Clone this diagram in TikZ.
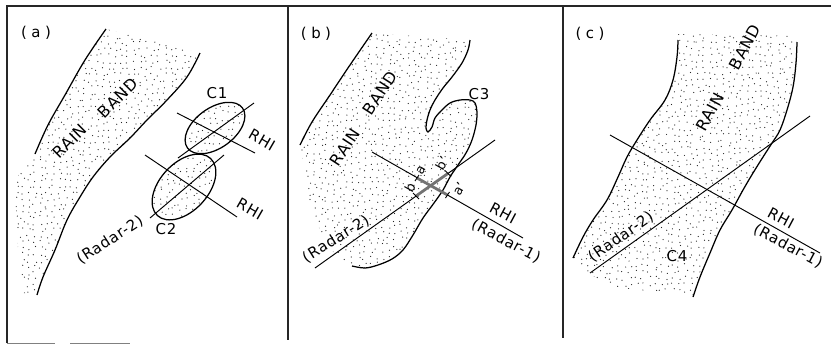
\documentclass[tikz,border=0pt]{standalone}
\usepackage{fontspec}
\setmainfont{DejaVu Sans}[LetterSpace=5]
\newcommand\stipfill[4]{\fill[black!85] \foreach \i in {0,...,#3}{\foreach \j in {0,...,#4}{(#1+\i*6.2+2.2*rand, #2+\j*6.2+2.2*rand) circle (0.62)}};}
\begin{document}
\begin{tikzpicture}[x=1bp,y=-1bp,
  frame/.style={line width=1.3bp, black!85},
  bnd/.style={line width=1.25bp},
  ray/.style={line width=0.95bp},
  lab/.style={font=\fontsize{15}{17}\selectfont, inner sep=0pt},
  big/.style={font=\fontsize{16}{18}\selectfont, inner sep=0pt},
  sml/.style={font=\fontsize{13}{15}\selectfont, inner sep=0pt},
  paren/.style={font=\fontsize{15}{17}\selectfont\addfontfeature{LetterSpace=30}, inner sep=0pt},
  hatch/.style={line width=2.8bp, black!55}]
\pgfmathsetseed{4242}
\useasboundingbox (0,0) rectangle (831,344);
% frame
\draw[frame] (7,343) -- (7,6) -- (831,6);
\draw[frame] (288,6) -- (288,340);
\draw[frame] (563,6) -- (563,338);
\draw[line width=0.8bp, black!50] (7,343) -- (55,343) (70,343) -- (130,343);

% ===== panel (a) =====
\begin{scope}
\clip (200,53) -- (187,77) -- (167,100) -- (147,120) -- (130,138) -- (110,157) -- (93,177) -- (80,197) -- (67,220) -- (55,250) -- (43,277) -- (37,295) -- (24,293) -- (17,240) -- (15,180) -- (35,154) -- (48,125) -- (65,95) -- (85,60) -- (106,29) -- cycle;
\stipfill{10}{25}{31}{45}
\end{scope}
\draw[bnd] plot[smooth, tension=0.6] coordinates {(200,53) (187,77) (167,100) (147,120) (130,138) (110,157) (93,177) (80,197) (67,220) (55,250) (43,277) (37,295)};
\draw[bnd] plot[smooth, tension=0.6] coordinates {(106,29) (85,60) (65,95) (48,125) (35,154)};
\begin{scope}
\clip (215,128) ellipse [x radius=34, y radius=20, rotate=36];
\stipfill{178}{100}{12}{10}
\end{scope}
\begin{scope}
\clip (184,187) ellipse [x radius=39, y radius=24, rotate=47];
\stipfill{143}{148}{13}{13}
\end{scope}
\draw[bnd] (215,128) ellipse [x radius=34, y radius=20, rotate=36];
\draw[bnd] (184,187) ellipse [x radius=39, y radius=24, rotate=47];
\draw[ray] (177,113) -- (255,153);
\draw[ray] (178,158) -- (254,103);
\draw[ray] (145,155) -- (237,217);
\draw[ray] (150,218) -- (224,155);
\node[paren] (la) at (36,33) {(a)};
\node[big, rotate=45] (rainA) at (70,141) {RAIN};
\node[big, rotate=45] (bandA) at (118,98) {BAND};
\node[lab] (c1) at (217,93) {C1};
\node[lab] (c2) at (166,229) {C2};
\node[lab, rotate=-30] (rhiA1) at (262,140) {RHI};
\node[lab, rotate=-30] (rhiA2) at (250,209) {RHI};
\node[lab, rotate=33] (r2A) at (110,240) {(Radar-2)};

% ===== panel (b) =====
\begin{scope}
\clip (372,33) -- (470,40) -- (468,50) -- (462,63) -- (452,77) -- (443,88) -- (435,100) -- (430,110) -- (427,120) -- (426,128) -- (428,132) -- (432,127) -- (435,118) -- (442,110) -- (450,103) -- (460,100) -- (470,100) -- (475,103) -- (477,112) -- (476,125) -- (472,140) -- (466,153) -- (458,165) -- (450,177) -- (443,190) -- (434,203) -- (423,218) -- (413,235) -- (403,250) -- (392,259) -- (378,265) -- (365,268) -- (352,266) -- (335,255) -- (320,230) -- (310,205) -- (306,175) -- (300,145) -- (312,122) -- (330,95) -- (350,65) -- cycle;
\stipfill{296}{28}{30}{40}
\end{scope}
\draw[bnd] plot[smooth, tension=0.6] coordinates {(372,33) (350,65) (330,95) (312,122) (300,145)};
\draw[bnd] plot[smooth, tension=0.55] coordinates {(470,40) (468,50) (462,63) (452,77) (443,88) (435,100) (430,110) (427,120) (426,128) (428,132) (432,127) (435,118) (442,110) (450,103) (460,100) (470,100) (475,103) (477,112) (476,125) (472,140) (466,153) (458,165) (450,177) (443,190) (434,203) (423,218) (413,235) (403,250) (392,259) (378,265) (365,268) (352,266)};
\draw[ray] (372,152) -- (523,238);
\draw[ray] (315,268) -- (495,140);
\draw[hatch] (417,178) -- (447.5,195);
\draw[hatch] (416,196) -- (448,173.4);
\draw[ray] (415,181) -- (419,175) (445.5,198) -- (449.5,192);
\draw[ray] (413,193) -- (419,199) (445,170.5) -- (451,176.5);
\node[sml, rotate=60] (pa) at (421,170) {a};
\node[sml, rotate=60] (pa2) at (459,189) {a'};
\node[sml, rotate=60] (pb) at (410,188) {b};
\node[sml, rotate=60] (pb2) at (442,163) {b'};
\node[paren] (lb) at (316,34) {(b)};
\node[big, rotate=57] (rainB) at (345,147) {RAIN};
\node[big, rotate=57] (bandB) at (380,93) {BAND};
\node[lab] (c3) at (479,94) {C3};
\node[lab, rotate=-28] (rhiB) at (503,213) {RHI};
\node[lab, rotate=-28] (r1B) at (506,241) {(Radar-1)};
\node[lab, rotate=32] (r2B) at (336,239) {(Radar-2)};

% ===== panel (c) =====
\begin{scope}
\clip (678,34) -- (797,36) -- (797,42) -- (796,63) -- (793,87) -- (787,110) -- (780,130) -- (772,143) -- (763,157) -- (753,173) -- (743,190) -- (732,210) -- (720,230) -- (710,253) -- (700,277) -- (693,297) -- (660,292) -- (620,288) -- (590,275) -- (573,258) -- (583,237) -- (593,220) -- (607,200) -- (618,177) -- (627,157) -- (637,140) -- (650,120) -- (665,100) -- (673,80) -- (677,57) -- (678,40) -- cycle;
\stipfill{568}{30}{38}{45}
\end{scope}
\draw[bnd] plot[smooth, tension=0.6] coordinates {(678,40) (677,57) (673,80) (665,100) (650,120) (637,140) (627,157) (618,177) (607,200) (593,220) (583,237) (573,258)};
\draw[bnd] plot[smooth, tension=0.6] coordinates {(797,42) (796,63) (793,87) (787,110) (780,130) (772,143) (763,157) (753,173) (743,190) (732,210) (720,230) (710,253) (700,277) (693,297)};
\draw[ray] (610,135) -- (820,253);
\draw[ray] (590,273) -- (810,116);
\node[paren] (lc) at (590,34) {(c)};
\node[big, rotate=62] (rainC) at (710,112) {RAIN};
\node[big, rotate=62] (bandC) at (745,47) {BAND};
\node[lab] (c4) at (677,256) {C4};
\node[lab, rotate=-28] (rhiC) at (781,218) {RHI};
\node[lab, rotate=-28] (r1C) at (788,246) {(Radar-1)};
\node[lab, rotate=35] (r2C) at (621,237) {(Radar-2)};
\end{tikzpicture}
\end{document}
